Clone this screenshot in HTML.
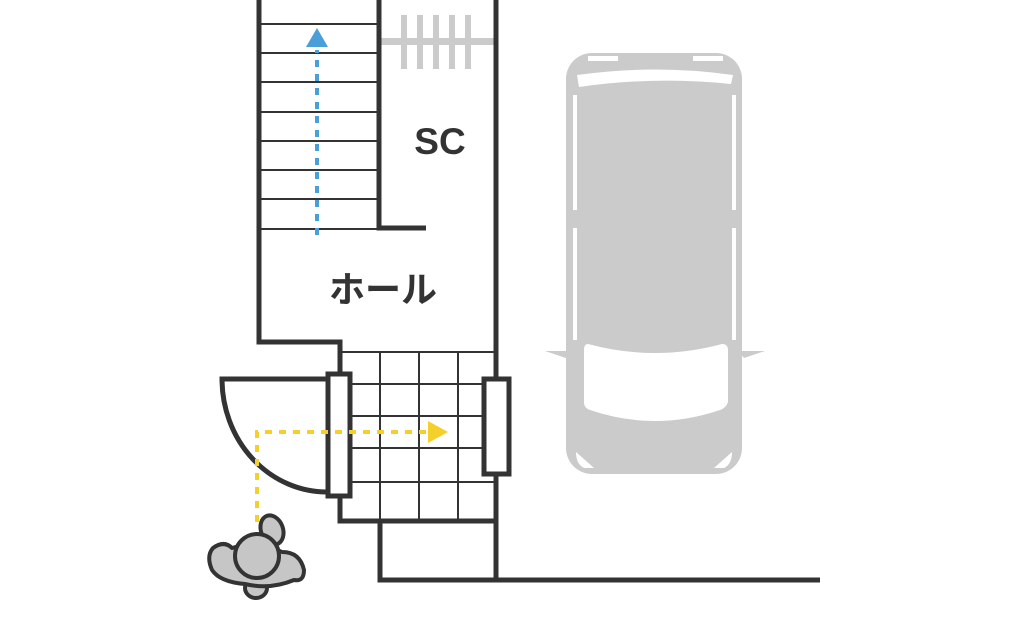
<!DOCTYPE html>
<html><head><meta charset="utf-8"><style>
html,body{margin:0;padding:0;background:#fff;width:1024px;height:640px;overflow:hidden}
</style></head><body>
<svg width="1024" height="640" viewBox="0 0 1024 640" xmlns="http://www.w3.org/2000/svg">
<!-- car -->
<g fill="#cbcbcb">
<rect x="566" y="53" width="176" height="421" rx="26"/>
<polygon points="545,351 572,351 566,358"/>
<polygon points="765,351 738,351 744,358"/>
</g>
<g fill="#fff">
<path d="M588,344 Q655,362 722,344 Q728,344 728,350 L728,402 Q726,408 720,410 Q655,432 590,410 Q584,408 584,402 L584,350 Q584,344 588,344Z"/>
<path d="M577,75 Q655,64 733,75 L731,84 Q655,76 579,87Z"/>
<rect x="573" y="95" width="4" height="115"/>
<rect x="573" y="228" width="4" height="112"/>
<rect x="732" y="95" width="4" height="115"/>
<rect x="732" y="228" width="4" height="112"/>
<rect x="588" y="56" width="30" height="5"/>
<rect x="693" y="56" width="30" height="5"/>
<path d="M576,452 L594,468 L584,468 Q576,464 576,452Z"/>
<path d="M732,452 L714,468 L724,468 Q732,464 732,452Z"/>
</g>
<!-- gray shelf -->
<g fill="#cbcbcb">
<rect x="381" y="38" width="114" height="7"/>
<rect x="401" y="15" width="6" height="54"/>
<rect x="417" y="15" width="6" height="54"/>
<rect x="433" y="15" width="6" height="54"/>
<rect x="449" y="15" width="6" height="54"/>
<rect x="465" y="15" width="6" height="54"/>
</g>
<!-- stair lines -->
<g stroke="#333" stroke-width="2">
<line x1="259" y1="24" x2="379" y2="24"/>
<line x1="259" y1="53" x2="379" y2="53"/>
<line x1="259" y1="82" x2="379" y2="82"/>
<line x1="259" y1="112" x2="379" y2="112"/>
<line x1="259" y1="141" x2="379" y2="141"/>
<line x1="259" y1="170" x2="379" y2="170"/>
<line x1="259" y1="199" x2="379" y2="199"/>
<line x1="259" y1="229" x2="379" y2="229"/>
</g>
<!-- tiles -->
<g stroke="#333" stroke-width="2">
<line x1="340" y1="352" x2="496" y2="352"/>
<line x1="340" y1="384" x2="496" y2="384"/>
<line x1="340" y1="416" x2="496" y2="416"/>
<line x1="340" y1="448" x2="496" y2="448"/>
<line x1="340" y1="482" x2="496" y2="482"/>
<line x1="380" y1="352" x2="380" y2="521"/>
<line x1="419" y1="352" x2="419" y2="521"/>
<line x1="458" y1="352" x2="458" y2="521"/>
</g>
<!-- walls -->
<g stroke="#333" stroke-width="5" fill="none">
<polyline points="259,0 259,342 340,342 340,521 496,521"/>
<polyline points="379,0 379,228 426,228"/>
<line x1="496" y1="0" x2="496" y2="580"/>
<polyline points="380,521 380,580 820,580"/>
<path d="M327,379 L222,379 A105,113 0 0 0 327,492"/>
</g>
<g stroke="#333" stroke-width="5" fill="#fff">
<rect x="328" y="374" width="22" height="122"/>
<rect x="484" y="379" width="25" height="95"/>
</g>
<!-- blue arrow -->
<line x1="317" y1="235" x2="317" y2="50" stroke="#4a9fd8" stroke-width="4" stroke-dasharray="7,7"/>
<polygon points="317,28 306,47 328,47" fill="#4a9fd8"/>
<!-- yellow -->
<polyline points="257,522 257,432 428,432" fill="none" stroke="#f5cf2a" stroke-width="4" stroke-dasharray="7,7"/>
<polygon points="428,421 448,432 428,443" fill="#f5cf2a"/>
<!-- person -->
<g stroke="#333" stroke-width="4" fill="#c6c6c6" stroke-linejoin="round">
<ellipse cx="272" cy="530" rx="11" ry="15" transform="rotate(-20 272 530)"/>
<ellipse cx="256" cy="588" rx="11" ry="10"/>
<path d="M213,548 Q224,540 232,548 Q258,540 282,552 Q300,552 304,570 Q304,582 294,580 Q270,590 245,584 Q220,582 212,570 Q206,556 213,548Z"/>
<circle cx="257" cy="556" r="22"/>
</g>
<g font-family="'Liberation Sans','Noto Sans CJK JP',sans-serif" font-weight="bold" fill="#333">
<text x="440" y="154" font-size="37" text-anchor="middle">SC</text>
<text x="383" y="302" font-size="36" text-anchor="middle">ホール</text>
</g>
</svg>
</body></html>
